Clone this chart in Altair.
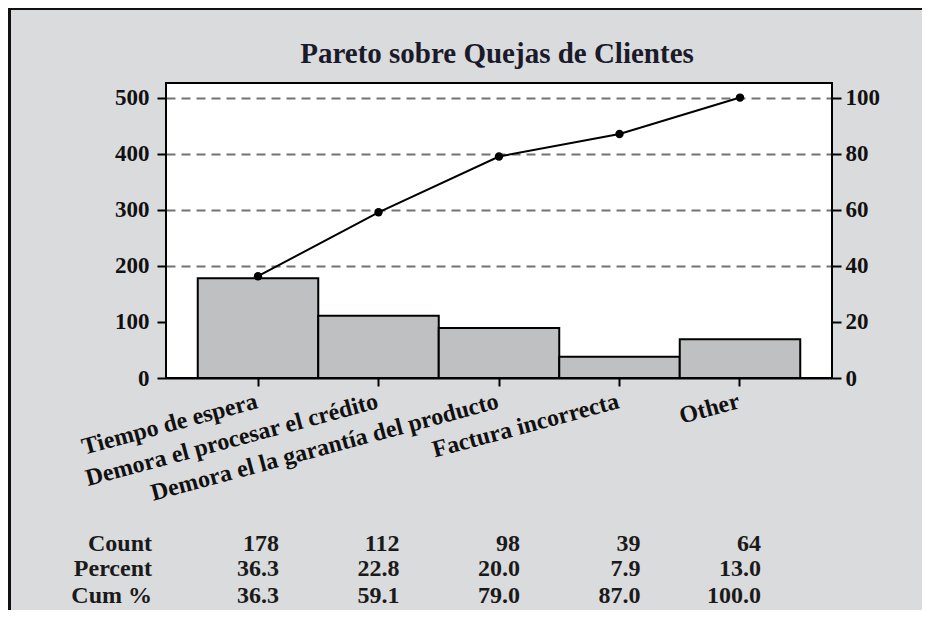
import altair as alt
import pandas as pd

# ---- data ----
categories = [
    "Tiempo de espera",
    "Demora el procesar el crédito",
    "Demora el la garantía del producto",
    "Factura incorrecta",
    "Other",
]
bar_heights = [178, 111, 89, 38, 69]          # bar heights as drawn
counts = [178, 112, 98, 39, 64]               # table row "Count"
percents = [36.3, 22.8, 20.0, 7.9, 13.0]      # table row "Percent"
cum_percents = [36.3, 59.1, 79.0, 87.0, 100.0]  # table row "Cum %" and line
left_ticks = [0, 100, 200, 300, 400, 500]
right_ticks = [0, 20, 40, 60, 80, 100]
row_labels = ["Count", "Percent", "Cum %"]
title_text = "Pareto sobre Quejas de Clientes"

df = pd.DataFrame({
    "cat": categories,
    "bar": bar_heights,
    "count_txt": [str(c) for c in counts],
    "pct_txt": [f"{p:.1f}" for p in percents],
    "cum": cum_percents,
    "cum_txt": [f"{c:.1f}" for c in cum_percents],
})

FONT = "Liberation Serif"
W, H = 666, 295

x_enc = alt.X(
    "cat:N", sort=categories,
    scale=alt.Scale(paddingInner=0, paddingOuter=0.2635),
    axis=alt.Axis(
        title=None, labelAngle=-15, labelAlign="right", labelBaseline="top",
        labelFont=FONT, labelFontWeight="bold", labelFontSize=24, labelColor="#111",
        labelLimit=1000, labelOverlap=False, labelPadding=3, labelOffset=-4,
        labelBound=False,
        tickSize=8, tickWidth=2, tickColor="black",
        domainColor="black", domainWidth=2, grid=False,
    ),
)
x_plain = alt.X("cat:N", sort=categories)

bars = alt.Chart(df).mark_bar(fill="#bfc0c2", stroke="black", strokeWidth=2).encode(
    x=x_enc,
    y=alt.Y(
        "bar:Q",
        scale=alt.Scale(domain=[0, 526], nice=False, zero=True),
        axis=alt.Axis(
            title=None, orient="left", values=left_ticks, domain=False,
            tickSize=9, tickWidth=2, tickColor="black",
            labelFont=FONT, labelFontWeight="bold", labelFontSize=23,
            labelColor="#111", labelPadding=8,
            grid=True, gridDash=[9, 6], gridColor="#737373", gridWidth=2,
            gridOpacity={"condition": {"test": "datum.value < 150", "value": 0}, "value": 1},
        ),
    ),
)

y_right = alt.Scale(domain=[0, 105.2], nice=False, zero=True)
right_axis = alt.Axis(
    title=None, orient="right", values=right_ticks, domain=False,
    tickSize=9, tickWidth=2, tickColor="black",
    labelFont=FONT, labelFontWeight="bold", labelFontSize=23,
    labelColor="#111", labelPadding=4, grid=False,
)
line = alt.Chart(df).mark_line(color="black", strokeWidth=2).encode(
    x=x_plain,
    y=alt.Y("cum:Q", scale=y_right, axis=right_axis),
)
points = alt.Chart(df).mark_point(filled=True, color="black", size=70, opacity=1).encode(
    x=x_plain,
    y=alt.Y("cum:Q", scale=y_right, axis=right_axis),
)
right = alt.layer(line, points)

# ---- plot-area border ----
one = pd.DataFrame({"k": [0]})
plot_border = alt.Chart(one).mark_rect(fillOpacity=0, stroke="black", strokeWidth=2).encode(
    x=alt.value(0), x2=alt.value(W), y=alt.value(0), y2=alt.value(H)
)

# ---- title ----
title = alt.Chart(one).mark_text(
    font=FONT, fontWeight="bold", fontSize=29, color="#1a1a2a",
    align="center", baseline="alphabetic", text=title_text,
).encode(x=alt.value(W / 2 - 2), y=alt.value(-20))

# ---- table under the chart ----
row_y = [467.5, 493, 520]
text_fields = ["count_txt", "pct_txt", "cum_txt"]
table_layers = []
for field, yy in zip(text_fields, row_y):
    table_layers.append(
        alt.Chart(df).mark_text(
            font=FONT, fontWeight="bold", fontSize=24, align="right",
            baseline="alphabetic", dx=21, color="#1a1a1a",
        ).encode(x=x_plain, y=alt.value(yy), text=alt.Text(f"{field}:N"))
    )
rows_df = pd.DataFrame({"row": row_labels})
for i, yy in enumerate(row_y):
    table_layers.append(
        alt.Chart(rows_df).transform_filter(f"datum.row == '{row_labels[i]}'").mark_text(
            font=FONT, fontWeight="bold", fontSize=24, align="right",
            baseline="alphabetic", color="#1a1a1a",
        ).encode(x=alt.value(-14), y=alt.value(yy), text="row:N")
    )

# ---- frame (top and left edges) ----
frame_top = alt.Chart(one).mark_rule(color="#111", strokeWidth=3).encode(
    x=alt.value(-158), x2=alt.value(756), y=alt.value(-74.5)
)
frame_left = alt.Chart(one).mark_rule(color="#111", strokeWidth=3).encode(
    x=alt.value(-156.5), y=alt.value(-76), y2=alt.value(527)
)

chart = alt.layer(
    bars, right, plot_border, title, *table_layers, frame_top, frame_left
).resolve_scale(
    y="independent"
).properties(
    width=W, height=H,
    padding={"left": 158, "top": 75, "right": 90, "bottom": 232},
    autosize=alt.AutoSizeParams(type="none"),
    background="#dadbdd",
).configure_view(fill="white", stroke="transparent", strokeWidth=0)

chart.save("out.html", embed_options={"renderer": "svg", "actions": False})
